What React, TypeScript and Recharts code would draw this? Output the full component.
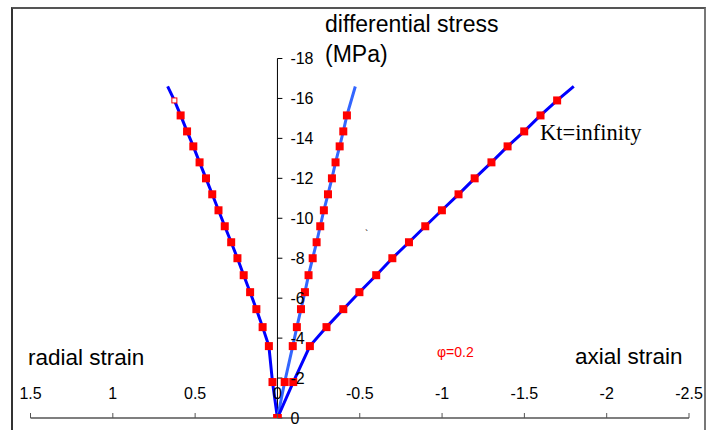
import React from "react";
import { ComposedChart, Line, Scatter, XAxis, YAxis, ReferenceLine } from "recharts";

// stress levels (MPa) at the measured points
const stressLevels = [0, -1.8, -3.6, -4.55, -5.45, -6.3, -7.15, -8.0, -8.8, -9.6, -10.4, -11.2, -12.0, -12.8, -13.6, -14.35, -15.15, -15.9];
// radial strain at each stress level
const radialStrain = [0, 0.03, 0.052, 0.09, 0.128, 0.166, 0.205, 0.243, 0.281, 0.32, 0.358, 0.396, 0.434, 0.473, 0.511, 0.549, 0.588, 0.626];
// middle (volumetric) strain, measured up to -15.15
const middleStrain = [0, -0.044, -0.093, -0.118, -0.143, -0.167, -0.189, -0.214, -0.238, -0.26, -0.282, -0.307, -0.331, -0.353, -0.378, -0.4, -0.422];
// axial strain
const axialStrain = [0, -0.096, -0.197, -0.298, -0.4, -0.498, -0.6, -0.698, -0.799, -0.898, -0.999, -1.1, -1.198, -1.3, -1.398, -1.499, -1.598, -1.699];
// end points of the curves (beyond last marker)
const curveEndStress = -16.6;
const radialEnd = 0.667;
const middleEnd = -0.473;
const axialEnd = -1.8;

const xTicks = [1.5, 1, 0.5, 0, -0.5, -1, -1.5, -2, -2.5];
const yTicks = [-18, -16, -14, -12, -10, -8, -6, -4, -2, 0];

const toPoints = (xs: number[], ys: number[]) => xs.map((x, i) => ({ x, y: ys[i] }));

const radialMarkers = toPoints(radialStrain.slice(0, radialStrain.length - 1), stressLevels);
const radialHollow = [{ x: radialStrain[radialStrain.length - 1], y: stressLevels[radialStrain.length - 1] }];
const middleMarkers = toPoints(middleStrain, stressLevels);
const axialMarkers = toPoints(axialStrain, stressLevels);

const radialLine = [...toPoints(radialStrain, stressLevels), { x: radialEnd, y: curveEndStress }];
const middleLine = [...middleMarkers, { x: middleEnd, y: curveEndStress }];
const axialLine = [...axialMarkers, { x: axialEnd, y: curveEndStress }];

const FONT = "'Liberation Sans', Arial, Helvetica, sans-serif";

const XTick = (props: any) => {
  const { x, y, payload } = props;
  return (
    <g>
      <line x1={x} y1={y} x2={x} y2={y - 5} stroke="#555" strokeWidth={1} />
      <text x={x} y={y - 19} textAnchor="middle" fontSize={16} fontFamily={FONT} fill="#000">
        {String(payload.value)}
      </text>
    </g>
  );
};

const Square = (props: any) => {
  const { cx, cy } = props;
  if (cx == null || cy == null) return null;
  return <rect x={cx - 4} y={cy - 4} width={8} height={8} fill="#ff0000" />;
};

const HollowSquare = (props: any) => {
  const { cx, cy } = props;
  if (cx == null || cy == null) return null;
  return <rect x={cx - 2.5} y={cy - 2.5} width={5} height={5} fill="#fff" stroke="#ff0000" strokeWidth={1} />;
};

export default function App() {
  return (
    <div style={{ position: "fixed", left: 0, top: 0, width: 706, height: 430, overflow: "hidden", background: "#fff" }}>
      <div
        style={{
          position: "absolute",
          left: 11,
          top: 7,
          width: 695,
          height: 440,
          boxSizing: "border-box",
          borderLeft: "2px solid #333",
          borderTop: "2px solid #555",
          borderRight: "2px solid #777",
        }}
      />
      <div style={{ position: "absolute", left: 0, top: 0 }}>
        <ComposedChart width={706} height={430} margin={{ top: 58.5, right: 17, left: 30.5, bottom: 0 }}>
          <XAxis
            type="number"
            dataKey="x"
            domain={[-2.5, 1.5]}
            reversed
            ticks={xTicks}
            interval={0}
            height={12}
            tickSize={0}
            tickMargin={0}
            tickLine={false}
            axisLine={{ stroke: "#555", strokeWidth: 1.5 }}
            tick={<XTick />}
            allowDataOverflow
          />
          <YAxis type="number" dataKey="y" domain={[-18, 0]} reversed hide allowDataOverflow />
          <ReferenceLine
            segment={[
              { x: 0, y: -18 },
              { x: 0, y: 0 },
            ]}
            stroke="#000"
            strokeWidth={1}
          />
          {yTicks.map((v) => (
            <ReferenceLine
              key={v}
              segment={[
                { x: 0, y: v },
                { x: -0.03, y: v },
              ]}
              stroke="#000"
              strokeWidth={1}
              label={{ value: String(v), position: "right", offset: 8, fontSize: 16, fill: "#000", fontFamily: FONT }}
            />
          ))}
          <Line data={radialLine} dataKey="y" type="linear" stroke="#0000ff" strokeWidth={3} dot={false} isAnimationActive={false} />
          <Line data={middleLine} dataKey="y" type="linear" stroke="#3366ff" strokeWidth={3} dot={false} isAnimationActive={false} />
          <Line data={axialLine} dataKey="y" type="linear" stroke="#0000ff" strokeWidth={3} dot={false} isAnimationActive={false} />
          <Scatter data={radialMarkers} shape={<Square />} isAnimationActive={false} />
          <Scatter data={radialHollow} shape={<HollowSquare />} isAnimationActive={false} />
          <Scatter data={middleMarkers} shape={<Square />} isAnimationActive={false} />
          <Scatter data={axialMarkers} shape={<Square />} isAnimationActive={false} />
        </ComposedChart>
      </div>
      <svg width={706} height={430} style={{ position: "absolute", left: 0, top: 0, pointerEvents: "none" }}>
        <text x={325} y={31.5} fontSize={23} fontFamily={FONT} fill="#000">differential stress</text>
        <text x={325} y={62} fontSize={23} fontFamily={FONT} fill="#000">(MPa)</text>
        <text x={28} y={365} fontSize={22.5} fontFamily={FONT} fill="#000">radial strain</text>
        <text x={575} y={364} fontSize={22.5} fontFamily={FONT} fill="#000">axial strain</text>
        <text x={540} y={140} fontSize={22.5} fontFamily="'Liberation Serif', 'Times New Roman', serif" fill="#000">Kt=infinity</text>
        <text x={437} y={357} fontSize={14} fontFamily={FONT} fill="#ff0000">φ=0.2</text>
        <text x={365} y={238} fontSize={10} fontFamily={FONT} fill="#000">`</text>
      </svg>
    </div>
  );
}
